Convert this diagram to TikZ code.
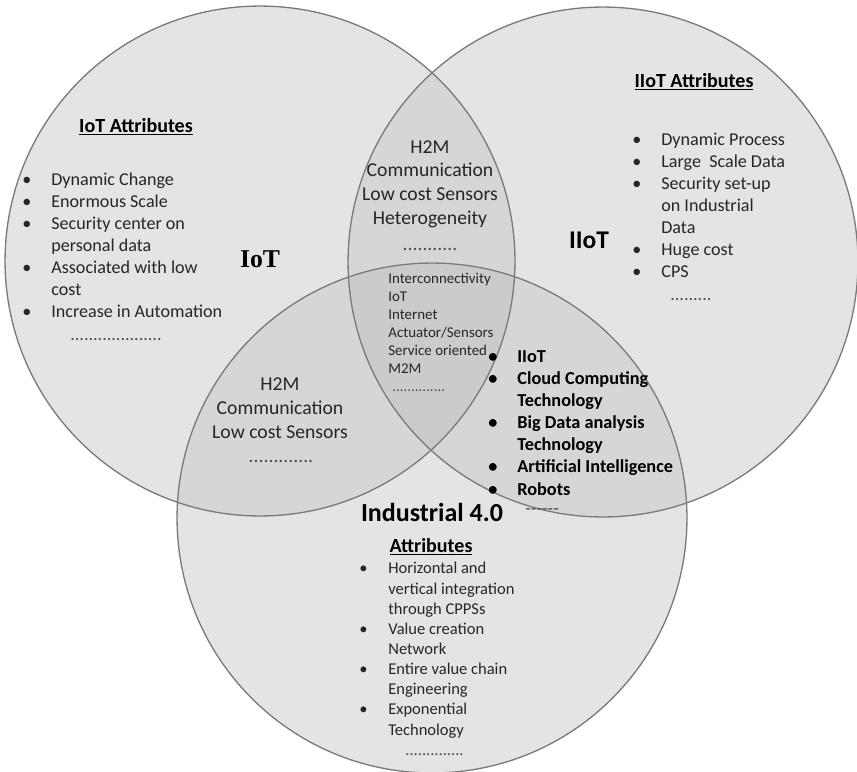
\documentclass[tikz,border=0pt]{standalone}
\usepackage{fontspec}
\setmainfont{Carlito}
\newfontfamily\labelserif{Liberation Serif}
\usetikzlibrary{positioning}
\definecolor{SetFill}{HTML}{E4E4E4}
\definecolor{PairFill}{HTML}{D6D6D6}
\definecolor{CoreFill}{HTML}{CBCBCB}
\definecolor{SetLine}{HTML}{7A7A7A}
\newcommand{\bul}{\makebox[0.58cm][l]{\textbullet}}
\newcommand{\nob}{\hspace*{0.58cm}}

\begin{document}
\begin{tikzpicture}[
  x=0.02cm, y=-0.02cm,
  ring/.style={draw=SetLine, line width=0.75pt},
  attr/.style={inner sep=0pt, align=left, anchor=base west, text=black!85,
    font=\fontsize{10.3}{12.5}\selectfont},
  head/.style={inner sep=0pt, anchor=base, font=\fontsize{11.4}{13}\selectfont\bfseries},
  mid/.style={inner sep=0pt, align=center, anchor=base, text=black!85,
    font=\fontsize{11.2}{13.4}\selectfont},
  core/.style={inner sep=0pt, align=left, anchor=base west, text=black!85,
    font=\fontsize{8.5}{10.2}\selectfont},
  tech/.style={inner sep=0pt, align=left, anchor=base west,
    font=\fontsize{10.4}{12.6}\selectfont\bfseries},
  indattr/.style={attr, font=\fontsize{9.4}{11.46}\selectfont},
  filler/.style={inner sep=0pt, anchor=base west, text=black!70}
]
\useasboundingbox (0,0) rectangle (857,771);

\coordinate (iot) at (260,261);
\coordinate (iiot) at (603,262);
\coordinate (ind) at (432,518);

% circle fills
\fill[SetFill] (iot) circle[radius=5.1cm];
\fill[SetFill] (iiot) circle[radius=5.1cm];
\fill[SetFill] (ind) circle[radius=5.1cm];
\begin{scope}
  \clip (iot) circle[radius=5.1cm];
  \fill[PairFill] (iiot) circle[radius=5.1cm];
  \fill[PairFill] (ind) circle[radius=5.1cm];
\end{scope}
\begin{scope}
  \clip (iiot) circle[radius=5.1cm];
  \fill[PairFill] (ind) circle[radius=5.1cm];
\end{scope}
\begin{scope}
  \clip (iot) circle[radius=5.1cm];
  \clip (iiot) circle[radius=5.1cm];
  \fill[CoreFill] (ind) circle[radius=5.1cm];
\end{scope}
\draw[ring] (iot) circle[radius=5.1cm];
\draw[ring] (iiot) circle[radius=5.1cm];
\draw[ring] (ind) circle[radius=5.1cm];

% IoT (multi-line nodes sit on their last baseline)
\node[head] (iotHead) at (136,132) {\underline{IoT Attributes}};
\node[attr] (iotList) at (22,317) {\bul Dynamic Change\\ \bul Enormous Scale\\
  \bul Security center on\\ \nob personal data\\ \bul Associated with low\\
  \nob cost\\ \bul Increase in Automation};
\node[filler, font=\fontsize{10.3}{12.5}\selectfont] (iotDots) at (70,340) {....................};
\node[anchor=base, inner sep=0pt, font=\labelserif\fontsize{14.6}{16}\selectfont\bfseries] (iotName) at (260,267) {IoT};

% IIoT
\node[head] (iiotHead) at (694,87) {\underline{IIoT Attributes}};
\node[attr] (iiotList) at (632,277) {\bul Dynamic Process\\ \bul Large\ \ Scale Data\\
  \bul Security set-up\\ \nob on Industrial\\ \nob Data\\ \bul Huge cost\\ \bul CPS};
\node[filler, font=\fontsize{10.3}{12.5}\selectfont] (iiotDots) at (670,300) {.........};
\node[anchor=base, inner sep=0pt, font=\fontsize{14.5}{16}\selectfont\bfseries] (iiotName) at (589,248) {IIoT};

% overlaps
\node[mid] (pairTop) at (430,224) {H2M\\Communication\\Low cost Sensors\\Heterogeneity};
\node[filler, anchor=base, font=\fontsize{11.2}{13.4}\selectfont] (pairTopDots) at (430,250) {...........};
\node[core] (coreList) at (388,373) {Interconnectivity\\IoT\\Internet\\Actuator/Sensors\\Service oriented\\M2M};
\node[filler, font=\fontsize{8.5}{10.2}\selectfont] (coreDots) at (392,391) {..............};
\node[mid] (pairLeft) at (280,438) {H2M\\Communication\\Low cost Sensors};
\node[filler, anchor=base, font=\fontsize{11.2}{13.4}\selectfont] (pairLeftDots) at (281,462) {.............};
\node[tech] (pairRight) at (488,495) {\bul IIoT\\ \bul Cloud Computing\\ \nob Technology\\
  \bul Big Data analysis\\ \nob Technology\\ \bul Artificial Intelligence\\ \bul Robots};
\node[filler, font=\fontsize{10.4}{12.6}\selectfont] (pairRightDash) at (525,514) {{-}{-}{-}{-}{-}{-}};

% Industrial 4.0
\node[anchor=base, inner sep=0pt, font=\fontsize{14.8}{17}\selectfont\bfseries] (indName) at (432,521) {Industrial 4.0};
\node[head] (indHead) at (431,552) {\underline{Attributes}};
\node[indattr] (indList) at (359,735) {\bul Horizontal and\\ \nob vertical integration\\
  \nob through CPPSs\\ \bul Value creation\\ \nob Network\\ \bul Entire value chain\\
  \nob Engineering\\ \bul Exponential\\ \nob Technology};
\node[filler, font=\fontsize{9.4}{11.46}\selectfont] (indDots) at (405,755) {..............};
\end{tikzpicture}
\end{document}
